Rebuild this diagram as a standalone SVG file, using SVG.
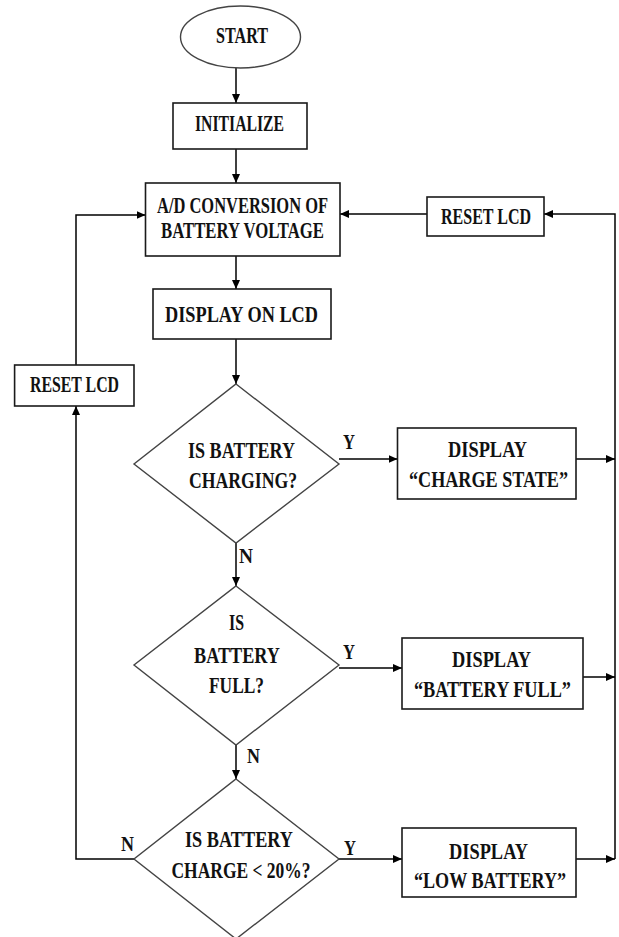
<svg xmlns="http://www.w3.org/2000/svg" width="619" height="937" viewBox="0 0 619 937">
<defs>
<marker id="ah" markerUnits="userSpaceOnUse" markerWidth="10" markerHeight="8" refX="9" refY="4" orient="auto">
<path d="M0,0 L9,4 L0,8 z" fill="#000"/>
</marker>
<style>
.box{fill:#fff;stroke:#1a1a1a;stroke-width:1.6}
.dia{fill:#fff;stroke:#444;stroke-width:1.4}
.ell{fill:#fff;stroke:#444;stroke-width:1.4}
.ln{fill:none;stroke:#000;stroke-width:1.5}
.ar{fill:none;stroke:#000;stroke-width:1.5;marker-end:url(#ah)}
text{font-family:"Liberation Serif","Times New Roman",serif;font-weight:bold;font-size:23px;fill:#111;text-anchor:middle}
.lb{text-anchor:start;font-size:21px}
</style>
</defs>
<rect width="619" height="937" fill="#fff"/>
<g id="connectors">
<path class="ar" d="M236,68 V103"/>
<path class="ar" d="M236,149 V183"/>
<path class="ar" d="M236,256 V289"/>
<path class="ar" d="M236,339 V384"/>
<path class="ar" d="M339,459 H397.5"/>
<path class="ar" d="M576,459 H615"/>
<path class="ar" d="M236,543 V586"/>
<path class="ar" d="M339,668 H402"/>
<path class="ar" d="M583,677 H615"/>
<path class="ar" d="M236,745 V779"/>
<path class="ar" d="M339,859 H402"/>
<path class="ar" d="M576,859 H615"/>
<path class="ar" d="M615,859 V214 H544"/>
<path class="ar" d="M427,214 H340"/>
<path class="ar" d="M134,859 H76 V406"/>
<path class="ar" d="M76,365 V215 H145.5"/>
<text class="lb" x="343" y="449" textLength="12" lengthAdjust="spacingAndGlyphs">Y</text>
<text class="lb" x="239" y="563" textLength="14" lengthAdjust="spacingAndGlyphs">N</text>
<text class="lb" x="343" y="659" textLength="12" lengthAdjust="spacingAndGlyphs">Y</text>
<text class="lb" x="247" y="763" textLength="13" lengthAdjust="spacingAndGlyphs">N</text>
<text class="lb" x="344" y="855" textLength="12" lengthAdjust="spacingAndGlyphs">Y</text>
<text class="lb" x="121" y="851" textLength="13" lengthAdjust="spacingAndGlyphs">N</text>
</g>
<g id="start">
<ellipse class="ell" cx="240.5" cy="37" rx="60" ry="31"/>
<text x="242" y="43" textLength="52" lengthAdjust="spacingAndGlyphs">START</text>
</g>
<g id="initialize">
<rect class="box" x="173" y="103" width="134" height="46"/>
<text x="239.5" y="131" textLength="89" lengthAdjust="spacingAndGlyphs">INITIALIZE</text>
</g>
<g id="adc">
<rect class="box" x="145.5" y="183" width="194.5" height="73"/>
<text x="242.5" y="213" textLength="171" lengthAdjust="spacingAndGlyphs">A/D CONVERSION OF</text>
<text x="242.5" y="238" textLength="163" lengthAdjust="spacingAndGlyphs">BATTERY VOLTAGE</text>
</g>
<g id="reset-right">
<rect class="box" x="427" y="197" width="117" height="39"/>
<text x="486" y="224" textLength="90" lengthAdjust="spacingAndGlyphs">RESET LCD</text>
</g>
<g id="display-lcd">
<rect class="box" x="153" y="289" width="178" height="50"/>
<text x="241.5" y="322" textLength="153" lengthAdjust="spacingAndGlyphs">DISPLAY ON LCD</text>
</g>
<g id="reset-left">
<rect class="box" x="14.6" y="365" width="119.4" height="41"/>
<text x="74.5" y="392" textLength="89" lengthAdjust="spacingAndGlyphs">RESET LCD</text>
</g>
<g id="q-charging">
<polygon class="dia" points="236,384 339,464 236,543 134,464"/>
<text x="241.5" y="458" textLength="107" lengthAdjust="spacingAndGlyphs">IS BATTERY</text>
<text x="243" y="488" textLength="108" lengthAdjust="spacingAndGlyphs">CHARGING?</text>
</g>
<g id="show-charge">
<rect class="box" x="397.5" y="428" width="178.5" height="71"/>
<text x="487.5" y="457" textLength="79" lengthAdjust="spacingAndGlyphs">DISPLAY</text>
<text x="488.5" y="487" textLength="159" lengthAdjust="spacingAndGlyphs">“CHARGE STATE”</text>
</g>
<g id="q-full">
<polygon class="dia" points="236,586 339,665 236,745 134,665"/>
<text x="236.5" y="630" textLength="15" lengthAdjust="spacingAndGlyphs">IS</text>
<text x="237" y="663" textLength="86" lengthAdjust="spacingAndGlyphs">BATTERY</text>
<text x="236.5" y="693" textLength="55" lengthAdjust="spacingAndGlyphs">FULL?</text>
</g>
<g id="show-full">
<rect class="box" x="402" y="638" width="181" height="71"/>
<text x="491.5" y="667" textLength="79" lengthAdjust="spacingAndGlyphs">DISPLAY</text>
<text x="492.5" y="697" textLength="157" lengthAdjust="spacingAndGlyphs">“BATTERY FULL”</text>
</g>
<g id="q-low">
<polygon class="dia" points="236,779 339,859 236,939 134,859"/>
<text x="239" y="847" textLength="108" lengthAdjust="spacingAndGlyphs">IS BATTERY</text>
<text x="241" y="878" textLength="139" lengthAdjust="spacingAndGlyphs">CHARGE &lt; 20%?</text>
</g>
<g id="show-low">
<rect class="box" x="402" y="828" width="174" height="69"/>
<text x="488.5" y="859" textLength="79" lengthAdjust="spacingAndGlyphs">DISPLAY</text>
<text x="490" y="888" textLength="152" lengthAdjust="spacingAndGlyphs">“LOW BATTERY”</text>
</g>
</svg>
